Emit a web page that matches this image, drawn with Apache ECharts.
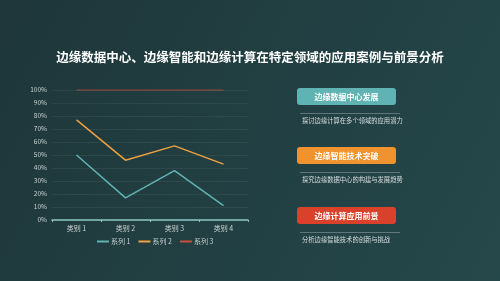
<!DOCTYPE html>
<html><head><meta charset="utf-8">
<script src="https://cdn.jsdelivr.net/npm/echarts@6/dist/echarts.min.js"></script>
<style>html,body{margin:0;padding:0;}#c{width:500px;height:281px;}</style>
</head><body><div id="c"></div>
<script>
var categories = ['类别 1', '类别 2', '类别 3', '类别 4'];
var seriesNames = ['系列 1', '系列 2', '系列 3'];
var series1 = [50, 17, 38, 11];
var series2 = [77, 46, 57, 43];
var series3 = [100, 100, 100, 100];
var yTicks = [0, 10, 20, 30, 40, 50, 60, 70, 80, 90, 100];
var boxTitles = ['边缘数据中心发展', '边缘智能技术突破', '边缘计算应用前景'];
var boxTexts = ['探讨边缘计算在多个领域的应用潜力', '探究边缘数据中心的构建与发展趋势', '分析边缘智能技术的创新与挑战'];
var boxColors = ['#5fb3b3', '#f0922e', '#d9412b'];
var boxTops = [88, 147, 207];

var FONT = '"Noto Sans CJK SC", "Noto Sans", sans-serif';
var chart = echarts.init(document.getElementById('c'));
var graphics = [];
boxTitles.forEach(function (t, i) {
  var y = boxTops[i];
  graphics.push({type: 'rect', left: 297, top: y, shape: {width: 99, height: 17, r: 3}, style: {fill: boxColors[i]}});
  graphics.push({type: 'text', x: 346.5, y: y + 8.5, style: {text: t, fill: '#ffffff', font: 'bold 8px ' + FONT, textAlign: 'center', textVerticalAlign: 'middle'}});
  graphics.push({type: 'line', shape: {x1: 300, y1: y + 25.5, x2: 400, y2: y + 25.5}, style: {stroke: 'rgba(255,255,255,0.28)', lineWidth: 1}});
  graphics.push({type: 'text', x: 302, y: y + 33, style: {text: boxTexts[i], fill: '#d8dede', font: '6.3px ' + FONT, textAlign: 'left', textVerticalAlign: 'middle'}});
});

chart.setOption({
  backgroundColor: {type: 'linear', x: 0, y: 0, x2: 1, y2: 1, colorStops: [{offset: 0, color: '#1e3639'}, {offset: 1, color: '#25484b'}]},
  textStyle: {fontFamily: FONT},
  title: {text: '边缘数据中心、边缘智能和边缘计算在特定领域的应用案例与前景分析', left: 'center', top: 46,
    textStyle: {color: '#ffffff', fontSize: 12.5, fontWeight: 'bold', fontFamily: FONT}},
  grid: {left: 52, right: 252, top: 90, bottom: 61, containLabel: false},
  legend: {data: seriesNames, bottom: 31, left: 92, itemWidth: 12, itemHeight: 2, itemGap: 8,
    icon: 'rect',
    textStyle: {color: '#c8d0d0', fontSize: 7, fontFamily: FONT, padding: [0, 0, 0, -3]}},
  xAxis: {type: 'category', data: categories, boundaryGap: true,
    axisLine: {lineStyle: {color: '#8cc6c2', width: 1.5}},
    axisTick: {show: true, length: 2, lineStyle: {color: '#8cc6c2'}},
    axisLabel: {color: '#c8d0d0', fontSize: 7, margin: 5}},
  yAxis: {type: 'value', min: 0, max: 100, interval: 10,
    axisLine: {show: false}, axisTick: {show: false},
    axisLabel: {color: '#c8d0d0', fontSize: 6.5, margin: 5, formatter: '{value}%'},
    splitLine: {lineStyle: {color: 'rgba(255,255,255,0.06)'}}},
  series: [
    {name: seriesNames[0], type: 'line', data: series1, symbol: 'none', color: '#5fb3b3', lineStyle: {width: 1.5, color: '#5fb3b3'}},
    {name: seriesNames[1], type: 'line', data: series2, symbol: 'none', color: '#f0a040', lineStyle: {width: 1.5, color: '#f0a040'}},
    {name: seriesNames[2], type: 'line', data: series3, symbol: 'none', color: '#c8503a', lineStyle: {width: 1.5, color: '#c8503a', opacity: 0.55}}
  ],
  graphic: graphics
});
</script></body></html>
